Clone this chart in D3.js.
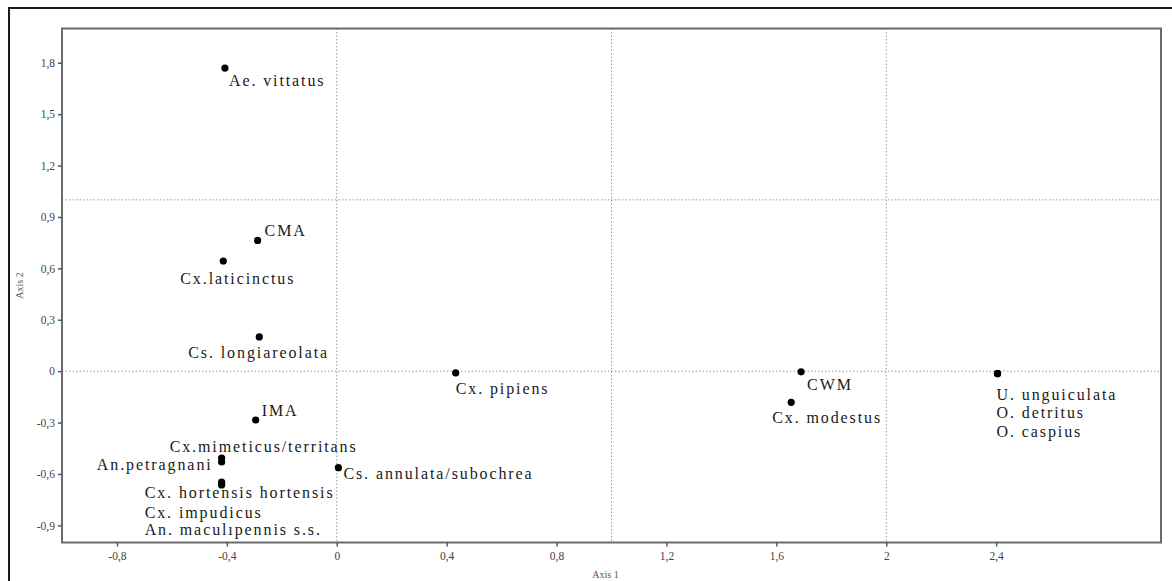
<!DOCTYPE html>
<html>
<head>
<meta charset="utf-8">
<script src="https://cdn.jsdelivr.net/npm/d3@7"></script>
<style>
  html, body { margin: 0; padding: 0; background: #fff; }
  svg { display: block; }
</style>
</head>
<body>
<svg id="chart" width="1172" height="581"></svg>
<script>
// ---- data ----
const species = [
  "Ae. vittatus", "CMA", "Cx.laticinctus", "Cs. longiareolata", "Cx. pipiens",
  "CWM", "Cx. modestus", "U. unguiculata", "O. detritus", "O. caspius",
  "IMA", "Cx.mimeticus/territans", "An.petragnani", "Cx. hortensis hortensis",
  "Cx. impudicus", "An. maculıpennis s.s.", "Cs. annulata/subochrea"
];
const axis1 = [-0.407, -0.288, -0.413, -0.282, 0.433, 1.690, 1.654, 2.405, 2.405, 2.405,
               -0.295, -0.419, -0.419, -0.419, -0.419, -0.419, 0.006];
const axis2 = [1.769, 0.763, 0.643, 0.200, -0.010, -0.004, -0.182, -0.014, -0.014, -0.014,
               -0.285, -0.507, -0.530, -0.647, -0.658, -0.664, -0.563];
const xTicks = [-0.8, -0.4, 0, 0.4, 0.8, 1.2, 1.6, 2, 2.4];
const xTickLabels = ["-0,8", "-0,4", "0", "0,4", "0,8", "1,2", "1,6", "2", "2,4"];
const yTicks = [-0.9, -0.6, -0.3, 0, 0.3, 0.6, 0.9, 1.2, 1.5, 1.8];
const yTickLabels = ["-0,9", "-0,6", "-0,3", "0", "0,3", "0,6", "0,9", "1,2", "1,5", "1,8"];
const xGrid = [0, 1, 2];
const yGrid = [0, 1];
// label placement relative to point (pixels): [dx, dy, anchor]
const labelLayout = [
  [4, 18, "start"], [7, -4, "start"], [-43, 23, "start"], [-71, 21, "start"], [0, 21, "start"],
  [6, 18, "start"], [-19, 21, "start"], [-1, 26, "start"], [-1, 44, "start"], [-1, 63, "start"],
  [6, -4, "start"], [-52, -6, "start"], [-9, 8, "end"], [-77, 16, "start"],
  [-77, 34, "start"], [-77, 50, "start"], [5, 11, "start"]
];

// ---- chart ----
const svg = d3.select("#chart");
const W = 1172, H = 581;
const pL = 62, pR = 1161, pT = 28.5, pB = 542.5;

const x = d3.scaleLinear().domain([-1, 3]).range([pL, pR]);
const y = d3.scaleLinear().domain([-1, 2]).range([pB, pT]);

// outer frame (only top and left visible)
svg.append("line").attr("x1", 8).attr("x2", W).attr("y1", 8).attr("y2", 8)
  .attr("stroke", "#1a1a1a").attr("stroke-width", 2);
svg.append("line").attr("x1", 9).attr("x2", 9).attr("y1", 8).attr("y2", H)
  .attr("stroke", "#1a1a1a").attr("stroke-width", 2);

// grid dotted lines
svg.append("g").selectAll("line").data(xGrid).join("line")
  .attr("x1", d => x(d)).attr("x2", d => x(d))
  .attr("y1", pT).attr("y2", pB)
  .attr("stroke", "#9a9a9a").attr("stroke-width", 1).attr("stroke-dasharray", "1.5,2");
svg.append("g").selectAll("line").data(yGrid).join("line")
  .attr("x1", pL).attr("x2", pR)
  .attr("y1", d => y(d)).attr("y2", d => y(d))
  .attr("stroke", "#9a9a9a").attr("stroke-width", 1).attr("stroke-dasharray", "1.5,2");

// plot frame
svg.append("rect").attr("x", pL).attr("y", pT)
  .attr("width", pR - pL).attr("height", pB - pT)
  .attr("fill", "none").attr("stroke", "#6a6a6a").attr("stroke-width", 2);

// axes
const tickFont = "'Liberation Serif', 'DejaVu Serif', serif";
const xAxis = d3.axisBottom(x).tickValues(xTicks)
  .tickFormat((d, i) => xTickLabels[i]).tickSize(4).tickPadding(5);
const gx = svg.append("g").attr("transform", `translate(0,${pB})`).call(xAxis);
gx.select(".domain").remove();
gx.selectAll(".tick line").attr("stroke", "#555").attr("stroke-width", 1.5);
gx.selectAll(".tick text").attr("font-family", tickFont).attr("font-size", 11.5)
  .attr("fill", "#444");

const yAxis = d3.axisLeft(y).tickValues(yTicks)
  .tickFormat((d, i) => yTickLabels[i]).tickSize(4).tickPadding(3);
const gy = svg.append("g").attr("transform", `translate(${pL},0)`).call(yAxis);
gy.select(".domain").remove();
gy.selectAll(".tick line").attr("stroke", "#555").attr("stroke-width", 1.5);
gy.selectAll(".tick text").attr("font-family", tickFont).attr("font-size", 11.5)
  .attr("fill", "#444");

// axis titles
svg.append("text").attr("x", (pL + pR) / 2 - 6).attr("y", 578)
  .attr("text-anchor", "middle").attr("font-family", tickFont)
  .attr("font-size", 10).attr("fill", "#555").text("Axis 1");
svg.append("text").attr("transform", `translate(23,${(pT + pB) / 2}) rotate(-90)`)
  .attr("text-anchor", "middle").attr("font-family", tickFont)
  .attr("font-size", 10).attr("fill", "#555").text("Axis 2");

// points
const pts = species.map((s, i) => ({ name: s, a1: axis1[i], a2: axis2[i], lay: labelLayout[i] }));
svg.append("g").selectAll("circle").data(pts).join("circle")
  .attr("cx", d => x(d.a1)).attr("cy", d => y(d.a2)).attr("r", 3.6)
  .attr("fill", "#000");

svg.append("g").selectAll("text").data(pts).join("text")
  .attr("x", d => x(d.a1) + d.lay[0]).attr("y", d => y(d.a2) + d.lay[1])
  .attr("text-anchor", d => d.lay[2])
  .attr("font-family", tickFont).attr("font-size", 16)
  .attr("letter-spacing", "1.9px").attr("fill", "#1a1a1a")
  .text(d => d.name);
</script>
</body>
</html>
